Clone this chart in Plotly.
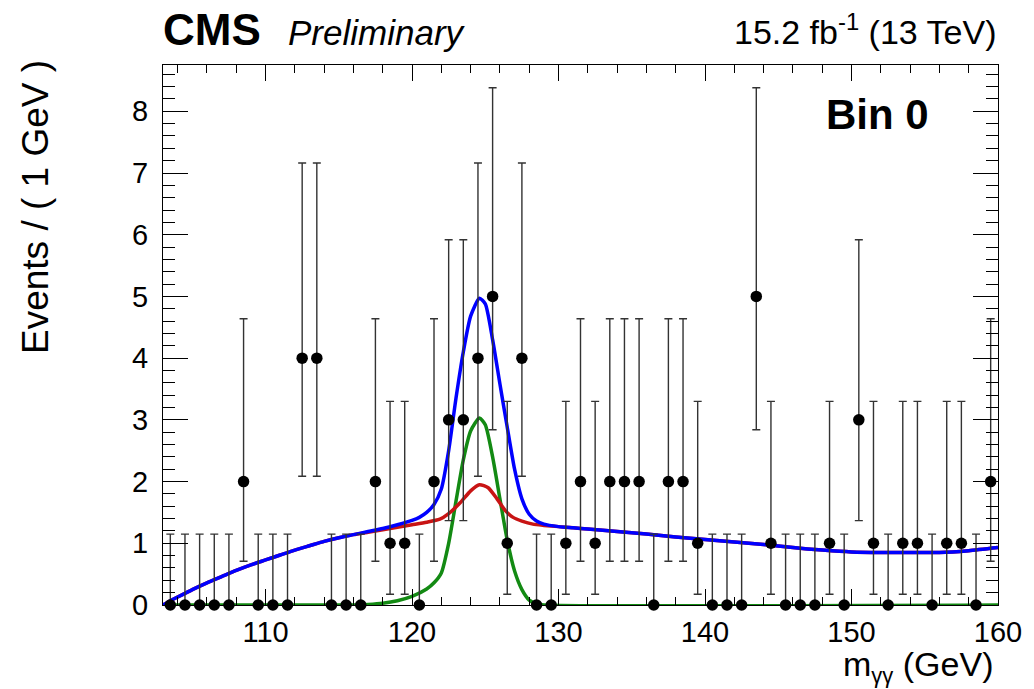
import numpy as np
import plotly.graph_objects as go

# ---------------- data ----------------
bin_lo, bin_hi = 103.0, 160.0
counts = [0, 0, 0, 0, 0, 2, 0, 0, 0, 4,      # 103.5 .. 112.5
          4, 0, 0, 0, 2, 1, 1, 0, 2, 3,      # 113.5 .. 122.5
          3, 4, 5, 1, 4, 0, 0, 1, 2, 1,      # 123.5 .. 132.5
          2, 2, 2, 0, 2, 2, 1, 0, 0, 0,      # 133.5 .. 142.5
          5, 1, 0, 0, 0, 1, 0, 3, 1, 0,      # 143.5 .. 152.5
          1, 1, 0, 1, 1, 0, 2]               # 153.5 .. 159.5
bin_centers = np.arange(bin_lo + 0.5, bin_hi, 1.0)

# asymmetric Poisson (RooFit) error table per observed count
pois_lo = {0: 0.0, 1: 0.827, 2: 1.291, 3: 1.633, 4: 1.914, 5: 2.160}
pois_hi = {0: 1.148, 1: 2.299, 2: 2.638, 3: 2.918, 4: 3.163, 5: 3.382}
err_lo = [pois_lo[c] for c in counts]
err_hi = [pois_hi[c] for c in counts]

# signal + background model (blue)
blue_x = [103.0, 103.5, 104.0, 104.6, 105.0, 106.0, 107.0, 108.0, 109.0, 110.0,
          111.0, 112.0, 113.0, 114.0, 115.0, 116.0, 117.0, 118.0, 119.0, 120.0,
          120.5, 121.0, 121.5, 122.0, 122.5, 123.0, 123.5, 124.0, 124.6, 125.0,
          125.5, 126.0, 126.5, 127.0, 127.5, 128.0, 128.5, 129.0, 130.0, 131.0,
          132.0, 134.0, 136.0, 138.0, 140.0, 142.0, 144.0, 146.0, 148.0, 150.0,
          152.0, 154.0, 156.0, 158.0, 160.0]
blue_y = [0.0, 0.07, 0.13, 0.20, 0.25, 0.36, 0.46, 0.56, 0.65, 0.73,
          0.81, 0.89, 0.96, 1.03, 1.09, 1.14, 1.19, 1.24, 1.30, 1.37,
          1.42, 1.50, 1.63, 1.88, 2.50, 3.35, 4.10, 4.68, 4.97, 4.88,
          4.30, 3.58, 2.88, 2.20, 1.72, 1.47, 1.36, 1.31, 1.27, 1.25,
          1.23, 1.19, 1.15, 1.10, 1.06, 1.02, 0.98, 0.93, 0.89, 0.86,
          0.85, 0.85, 0.85, 0.88, 0.93]

# background-like component (red)
red_x = [103.0, 103.5, 104.0, 104.6, 105.0, 106.0, 107.0, 108.0, 109.0, 110.0,
         111.0, 112.0, 113.0, 114.0, 115.0, 116.0, 117.0, 118.0, 119.0, 120.0,
         121.0, 121.9, 122.5, 123.3, 124.0, 124.6, 125.2, 125.8, 126.4, 126.9,
         127.5, 128.25, 129.0, 130.0, 131.0, 132.0, 134.0, 136.0, 138.0, 140.0,
         142.0, 144.0, 146.0, 148.0, 150.0, 152.0, 154.0, 156.0, 158.0, 160.0]
red_y = [0.0, 0.07, 0.13, 0.20, 0.25, 0.36, 0.46, 0.56, 0.65, 0.73,
         0.81, 0.89, 0.96, 1.03, 1.09, 1.14, 1.18, 1.22, 1.26, 1.30,
         1.34, 1.39, 1.48, 1.66, 1.85, 1.95, 1.90, 1.72, 1.52, 1.42,
         1.36, 1.31, 1.29, 1.27, 1.25, 1.23, 1.19, 1.15, 1.10, 1.06,
         1.02, 0.98, 0.93, 0.89, 0.86, 0.85, 0.85, 0.85, 0.88, 0.93]

# signal component (green)
green_x = [103.0, 116.0, 117.0, 118.0, 119.0, 120.0, 121.0, 121.5, 122.0, 122.5,
           123.0, 123.5, 124.0, 124.6, 125.0, 125.5, 126.0, 126.5, 127.0, 127.5,
           128.0, 128.5, 129.0, 160.0]
green_y = [0.0, 0.0, 0.01, 0.03, 0.07, 0.14, 0.26, 0.36, 0.52, 1.00,
           1.68, 2.35, 2.82, 3.03, 2.92, 2.40, 1.72, 1.05, 0.55, 0.25,
           0.08, 0.02, 0.0, 0.0]

# ---------------- figure ----------------
FONT = "Liberation Sans, Arial, Helvetica, sans-serif"
W, H = 1034, 689
L, R, T, B = 163, 36, 65, 84
pw, ph = W - L - R, H - T - B


def px(xpix):
    return (xpix - L) / pw


def py(ypix):
    return (H - B - ypix) / ph


fig = go.Figure()

line_common = dict(width=3.5, shape="spline", smoothing=0.6)
fig.add_trace(go.Scatter(x=green_x, y=green_y, mode="lines",
                         line=dict(color="#138a13", **line_common), hoverinfo="skip"))
fig.add_trace(go.Scatter(x=red_x, y=red_y, mode="lines",
                         line=dict(color="#c81414", **line_common), hoverinfo="skip"))
fig.add_trace(go.Scatter(x=blue_x, y=blue_y, mode="lines",
                         line=dict(color="#0000ff", **line_common), hoverinfo="skip"))
fig.add_trace(go.Scatter(
    x=bin_centers, y=counts, mode="markers",
    marker=dict(color="black", size=11.5, symbol="circle"),
    error_y=dict(type="data", symmetric=False, array=err_hi, arrayminus=err_lo,
                 color="#333333", thickness=1.4, width=4),
    cliponaxis=False))

axis_common = dict(showline=True, linecolor="black", linewidth=1.2, mirror="allticks",
                   ticks="inside", tickcolor="black", tickwidth=1.2,
                   showgrid=False, zeroline=False,
                   tickfont=dict(family=FONT, size=29, color="black"))

fig.update_layout(
    width=W, height=H,
    margin=dict(l=L, r=R, t=T, b=B),
    paper_bgcolor="white", plot_bgcolor="white",
    showlegend=False,
    font=dict(family=FONT, color="black"),
    xaxis=dict(range=[bin_lo, bin_hi], tick0=100, dtick=10, ticklen=16,
               minor=dict(dtick=2, tick0=100, ticklen=8, ticks="inside",
                          tickcolor="black", tickwidth=1.2),
               ticklabelstandoff=1, **axis_common),
    yaxis=dict(range=[0, 8.75], tick0=0, dtick=1, ticklen=25,
               minor=dict(dtick=0.2, tick0=0, ticklen=12, ticks="inside",
                          tickcolor="black", tickwidth=1.2),
               ticklabelstandoff=8, **axis_common),
)

ann = [
    dict(text="<b>CMS</b>", x=px(161), y=py(29), xanchor="left", yanchor="middle",
         font=dict(family=FONT, size=44, color="black")),
    dict(text="<i>Preliminary</i>", x=px(286), y=py(32), xanchor="left", yanchor="middle",
         font=dict(family=FONT, size=35, color="black")),
    dict(text="15.2 fb<sup>-1</sup> (13 TeV)", x=px(998), y=py(30), xanchor="right",
         yanchor="middle", font=dict(family=FONT, size=34, color="black")),
    dict(text="<b>Bin 0</b>", x=px(931), y=py(115), xanchor="right", yanchor="middle",
         font=dict(family=FONT, size=42, color="black")),
    dict(text="Events / ( 1 GeV )", x=px(36), y=py(58), xanchor="center", yanchor="top",
         textangle=-90, font=dict(family=FONT, size=37, color="black")),
    dict(text="m<sub><span style='font-size:22px'>γγ</span></sub> (GeV)",
         x=px(995), y=py(667), xanchor="right",
         yanchor="middle", font=dict(family=FONT, size=34, color="black")),
]
for a in ann:
    a.update(xref="paper", yref="paper", showarrow=False)
fig.update_layout(annotations=ann)

fig.write_html("out.html")
